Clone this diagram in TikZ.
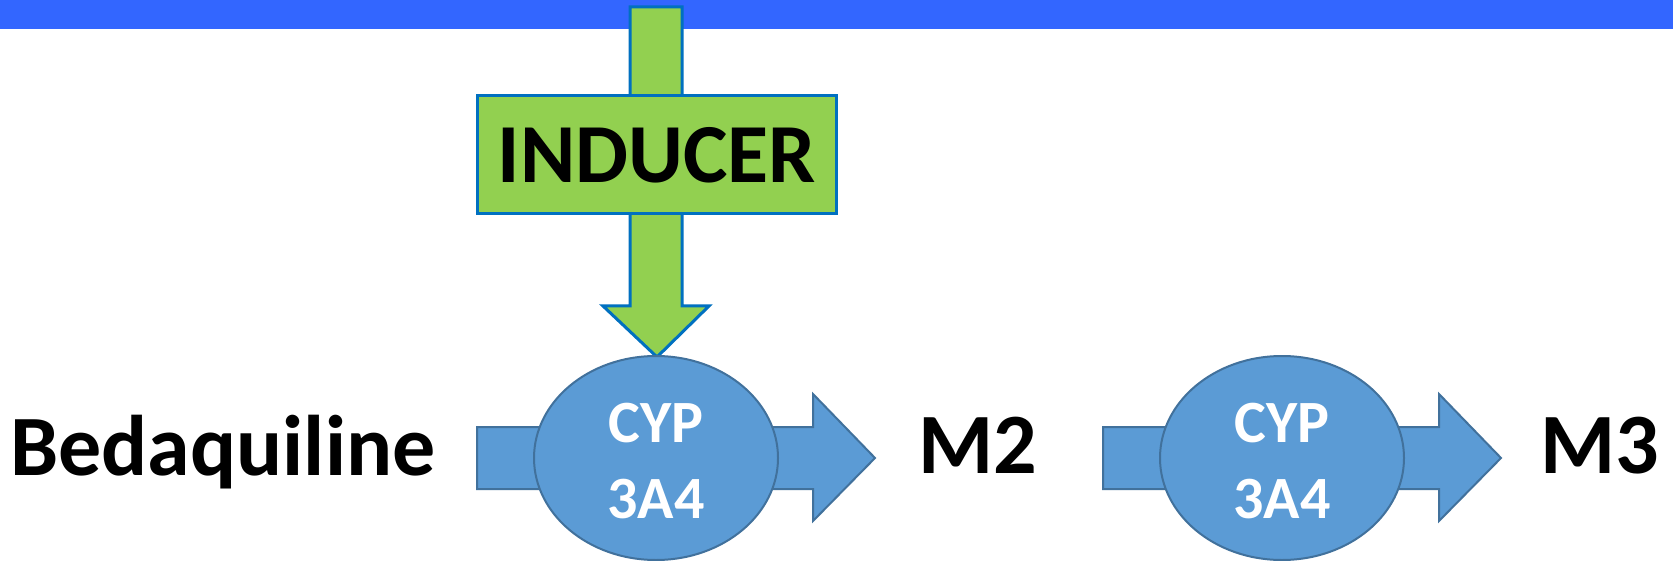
\documentclass[tikz,border=0pt]{standalone}
\usepackage{fontspec}
\setmainfont{Carlito}
\usetikzlibrary{shapes.geometric}
\definecolor{barblue}{HTML}{3366FF}
\definecolor{indgreen}{HTML}{92D050}
\definecolor{indline}{HTML}{0070C0}
\definecolor{cypfill}{HTML}{5B9BD5}
\definecolor{cypline}{HTML}{41719C}
\tikzset{
  cypell/.style={ellipse, draw=cypline, fill=cypfill, line width=2pt, minimum width=244pt, minimum height=204pt, inner sep=0pt},
  blockarrow/.style={draw=cypline, fill=cypfill, line width=2pt, line join=miter},
  greenarrow/.style={draw=indline, fill=indgreen, line width=3pt, line join=miter},
  bigtext/.style={font=\bfseries\fontsize{86}{86}\selectfont, inner sep=0pt, anchor=base west},
  cyptext/.style={font=\bfseries\fontsize{60}{76}\selectfont, text=white, align=center, inner sep=0pt}
}
\begin{document}
\begin{tikzpicture}[x=1pt,y=-1pt]
\useasboundingbox (0,0) rectangle (1673,561);
\fill[white] (0,0) rectangle (1673,561);
% top bar
\fill[barblue] (0,0) rectangle (1673,29);
% green inducer arrow
\draw[greenarrow] (630,7) -- (682,7) -- (682,306) -- (709,306) -- (657,357) -- (603,306) -- (630,306) -- cycle;
\node[draw=indline, fill=indgreen, line width=3pt, minimum width=359pt, minimum height=118pt, inner sep=0pt] (ind) at (656.5,155) {};
\node[font=\bfseries\fontsize{84}{84}\selectfont, inner sep=0pt, anchor=base] (indt) at (657,183) {INDUCER};
% blue arrows
\draw[blockarrow] (477,427) -- (813,427) -- (813,394) -- (875,458) -- (813,521) -- (813,489) -- (477,489) -- cycle;
\draw[blockarrow] (1103,427) -- (1439,427) -- (1439,394) -- (1501,458) -- (1439,521) -- (1439,489) -- (1103,489) -- cycle;
% enzymes
\node[cypell] (e1) at (656,458) {};
\node[cypell] (e2) at (1282,458) {};
\node[cyptext, anchor=base] (c1a) at (656,442) {CYP};
\node[cyptext, anchor=base] (c1b) at (656,518) {3A4};
\node[cyptext, anchor=base] (c2a) at (1282,442) {CYP};
\node[cyptext, anchor=base] (c2b) at (1282,518) {3A4};
% labels
\node[bigtext] (bed) at (10,475) {Bedaquiline};
\node[bigtext] (m2) at (918,473) {M2};
\node[bigtext] (m3) at (1540,473) {M3};
\end{tikzpicture}
\end{document}
